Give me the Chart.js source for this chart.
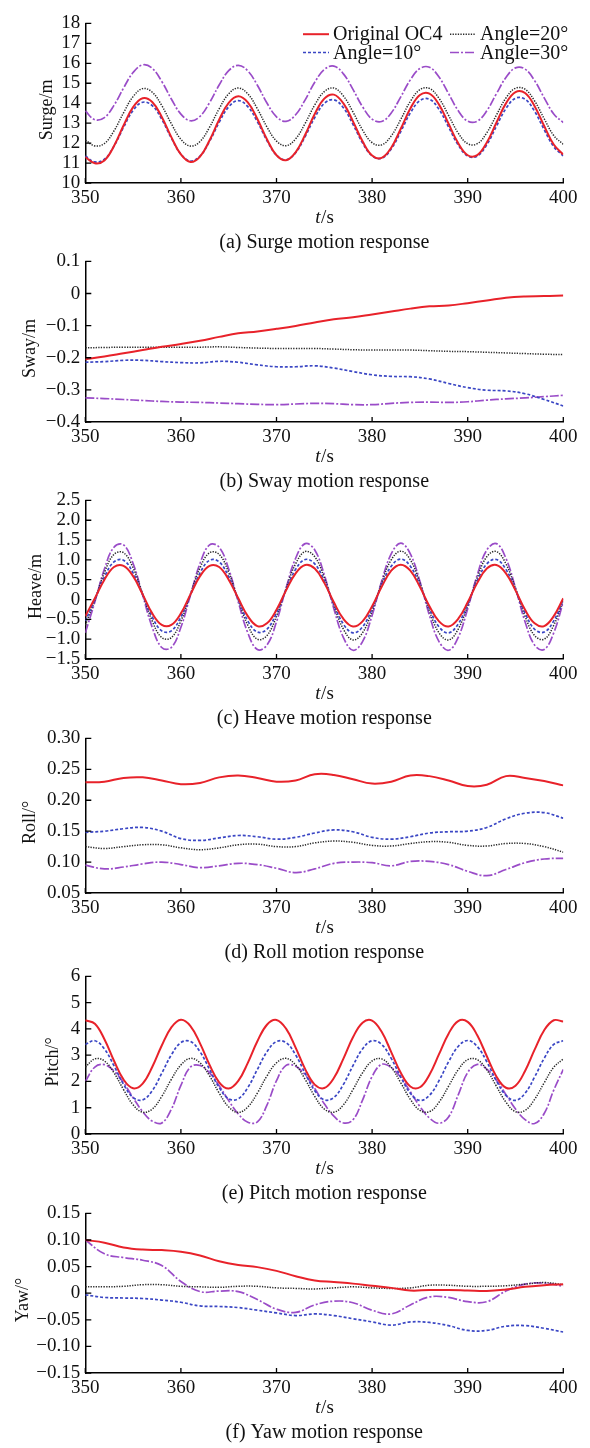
<!DOCTYPE html>
<html>
<head>
<meta charset="utf-8">
<script src="https://cdn.jsdelivr.net/npm/chart.js@4.4.0/dist/chart.umd.min.js"></script>
<style>
  html, body { margin: 0; padding: 0; background: #fff; }
  #wrap { position: relative; width: 590px; height: 1448px; overflow: hidden; }
  #wrap canvas { position: absolute; left: 0; }
</style>
</head>
<body>
<div id="wrap"></div>
<script>
// time axes (s)
const tFine = [350, 351, 352, 353, 354, 355, 356, 357, 358, 359, 360, 361, 362, 363, 364, 365, 366,
  367, 368, 369, 370, 371, 372, 373, 374, 375, 376, 377, 378, 379, 380, 381, 382, 383, 384, 385,
  386, 387, 388, 389, 390, 391, 392, 393, 394, 395, 396, 397, 398, 399, 400];
const tCoarse = [350, 352, 354, 356, 358, 360, 362, 364, 366, 368, 370, 372, 374, 376, 378, 380,
  382, 384, 386, 388, 390, 392, 394, 396, 398, 400];
const xTicks = [350, 360, 370, 380, 390, 400];

const seriesNames = ['Original OC4', 'Angle=10°', 'Angle=20°', 'Angle=30°'];

// (a) surge, m
const surgeOC4 = [11.30, 10.99, 11.13, 11.85, 12.88, 13.80, 14.25, 14.06, 13.31, 12.30,
  11.43, 11.05, 11.32, 12.14, 13.17, 14.02, 14.35, 14.04, 13.21, 12.19,
  11.39, 11.14, 11.54, 12.42, 13.46, 14.23, 14.43, 13.99, 13.09, 12.09,
  11.38, 11.26, 11.77, 12.72, 13.73, 14.41, 14.48, 13.93, 12.97, 12.00,
  11.39, 11.40, 12.03, 13.02, 13.99, 14.56, 14.51, 13.85, 12.86, 11.93, 11.43];
const surge10 = [11.35, 11.06, 11.19, 11.85, 12.79, 13.64, 14.05, 13.88, 13.19, 12.25,
  11.45, 11.10, 11.35, 12.09, 13.04, 13.82, 14.13, 13.83, 13.07, 12.13,
  11.39, 11.16, 11.52, 12.33, 13.28, 13.99, 14.17, 13.77, 12.94, 12.01,
  11.36, 11.24, 11.71, 12.58, 13.51, 14.13, 14.20, 13.69, 12.81, 11.91,
  11.35, 11.35, 11.92, 12.84, 13.73, 14.25, 14.20, 13.59, 12.67, 11.82, 11.36];
const surge20 = [12.15, 11.86, 11.98, 12.61, 13.52, 14.33, 14.73, 14.55, 13.88, 12.97,
  12.19, 11.85, 12.08, 12.80, 13.72, 14.47, 14.76, 14.47, 13.72, 12.81,
  12.10, 11.87, 12.21, 12.99, 13.91, 14.58, 14.76, 14.36, 13.56, 12.66,
  12.02, 11.91, 12.36, 13.19, 14.09, 14.68, 14.74, 14.24, 13.39, 12.51,
  11.97, 11.97, 12.52, 13.40, 14.26, 14.75, 14.70, 14.11, 13.22, 12.38, 11.94];
const surge30 = [13.61, 13.17, 13.28, 13.89, 14.76, 15.54, 15.92, 15.75, 15.09, 14.21,
  13.45, 13.12, 13.34, 14.03, 14.91, 15.63, 15.90, 15.62, 14.90, 14.01,
  13.32, 13.09, 13.42, 14.17, 15.05, 15.69, 15.86, 15.47, 14.69, 13.82,
  13.20, 13.08, 13.51, 14.32, 15.17, 15.74, 15.80, 15.31, 14.48, 13.63,
  13.10, 13.10, 13.62, 14.47, 15.29, 15.77, 15.71, 15.13, 14.27, 13.46, 13.03];

// (b) sway, m
const swayOC4 = [-0.205, -0.196, -0.186, -0.176, -0.166, -0.157, -0.147, -0.135, -0.124, -0.118,
  -0.110, -0.101, -0.090, -0.080, -0.074, -0.065, -0.056, -0.047, -0.040, -0.037,
  -0.030, -0.022, -0.013, -0.009, -0.008, -0.006];
const sway10 = [-0.214, -0.212, -0.208, -0.208, -0.212, -0.215, -0.216, -0.211, -0.214, -0.222,
  -0.228, -0.228, -0.225, -0.232, -0.243, -0.253, -0.258, -0.259, -0.266, -0.280,
  -0.293, -0.301, -0.303, -0.312, -0.330, -0.350];
const sway20 = [-0.169, -0.168, -0.167, -0.167, -0.167, -0.167, -0.167, -0.166, -0.168, -0.170,
  -0.171, -0.171, -0.171, -0.173, -0.175, -0.176, -0.176, -0.176, -0.178, -0.180,
  -0.181, -0.183, -0.185, -0.187, -0.189, -0.190];
const sway30 = [-0.325, -0.327, -0.330, -0.333, -0.336, -0.338, -0.339, -0.341, -0.343, -0.345,
  -0.346, -0.344, -0.342, -0.343, -0.346, -0.346, -0.342, -0.339, -0.338, -0.339,
  -0.337, -0.332, -0.328, -0.325, -0.321, -0.317];

// (c) heave, m
const heaveOC4 = [-0.42, 0.03, 0.50, 0.82, 0.85, 0.59, 0.13, -0.35, -0.64, -0.64,
  -0.35, 0.13, 0.59, 0.85, 0.82, 0.50, 0.03, -0.42, -0.67, -0.60,
  -0.26, 0.23, 0.66, 0.87, 0.78, 0.42, -0.07, -0.49, -0.68, -0.55,
  -0.17, 0.32, 0.73, 0.88, 0.73, 0.32, -0.17, -0.55, -0.68, -0.49,
  -0.07, 0.42, 0.78, 0.87, 0.66, 0.23, -0.26, -0.60, -0.67, -0.42, 0.03];
const heave10 = [-0.54, 0.00, 0.57, 0.95, 0.99, 0.67, 0.12, -0.44, -0.79, -0.79,
  -0.44, 0.12, 0.67, 0.99, 0.95, 0.57, 0.00, -0.54, -0.82, -0.75,
  -0.34, 0.24, 0.76, 1.01, 0.90, 0.47, -0.12, -0.62, -0.84, -0.69,
  -0.23, 0.36, 0.84, 1.02, 0.84, 0.36, -0.23, -0.69, -0.84, -0.62,
  -0.12, 0.47, 0.90, 1.01, 0.76, 0.24, -0.34, -0.75, -0.82, -0.54, 0.00];
const heave20 = [-0.65, -0.01, 0.68, 1.14, 1.18, 0.80, 0.14, -0.54, -0.96, -0.96,
  -0.54, 0.14, 0.80, 1.18, 1.14, 0.68, -0.01, -0.65, -1.00, -0.91,
  -0.42, 0.28, 0.90, 1.21, 1.08, 0.55, -0.15, -0.75, -1.02, -0.84,
  -0.29, 0.42, 1.00, 1.22, 1.00, 0.42, -0.29, -0.84, -1.02, -0.75,
  -0.15, 0.55, 1.08, 1.21, 0.90, 0.28, -0.42, -0.91, -1.00, -0.65, -0.01];
const heave30 = [-0.84, -0.06, 0.77, 1.32, 1.38, 0.91, 0.11, -0.70, -1.21, -1.21,
  -0.70, 0.11, 0.91, 1.38, 1.32, 0.77, -0.06, -0.84, -1.26, -1.15,
  -0.56, 0.29, 1.04, 1.41, 1.25, 0.62, -0.23, -0.96, -1.28, -1.06,
  -0.40, 0.46, 1.15, 1.42, 1.15, 0.46, -0.40, -1.06, -1.28, -0.96,
  -0.23, 0.62, 1.25, 1.41, 1.04, 0.29, -0.56, -1.15, -1.26, -0.84, -0.06];

// (d) roll, deg
const rollOC4 = [0.229, 0.230, 0.236, 0.237, 0.232, 0.226, 0.228, 0.237, 0.240, 0.236,
  0.230, 0.232, 0.242, 0.241, 0.234, 0.227, 0.230, 0.240, 0.239, 0.232,
  0.223, 0.225, 0.239, 0.236, 0.231, 0.224];
const roll10 = [0.148, 0.150, 0.154, 0.156, 0.150, 0.138, 0.135, 0.139, 0.143, 0.141,
  0.137, 0.140, 0.147, 0.152, 0.149, 0.140, 0.137, 0.141, 0.147, 0.149,
  0.150, 0.156, 0.170, 0.179, 0.180, 0.171];
const roll20 = [0.125, 0.122, 0.125, 0.128, 0.128, 0.123, 0.120, 0.123, 0.128, 0.129,
  0.125, 0.125, 0.131, 0.134, 0.132, 0.127, 0.126, 0.130, 0.133, 0.132,
  0.127, 0.126, 0.130, 0.130, 0.125, 0.116];
const roll30 = [0.095, 0.089, 0.092, 0.097, 0.100, 0.096, 0.091, 0.094, 0.098, 0.096,
  0.090, 0.083, 0.089, 0.098, 0.100, 0.099, 0.094, 0.101, 0.101, 0.096,
  0.085, 0.078, 0.088, 0.099, 0.105, 0.106];

// (e) pitch, deg
const pitchOC4 = [4.33, 4.20, 3.61, 2.79, 2.07, 1.74, 1.92, 2.55, 3.37, 4.06,
  4.35, 4.11, 3.45, 2.63, 1.97, 1.73, 2.02, 2.71, 3.53, 4.16,
  4.34, 4.01, 3.29, 2.47, 1.88, 1.75, 2.13, 2.87, 3.68, 4.24,
  4.32, 3.89, 3.12, 2.33, 1.81, 1.78, 2.26, 3.04, 3.82, 4.30,
  4.27, 3.76, 2.96, 2.19, 1.76, 1.84, 2.40, 3.21, 3.95, 4.33, 4.28];
const pitch10 = [3.41, 3.55, 3.24, 2.60, 1.89, 1.39, 1.30, 1.65, 2.31, 3.01,
  3.48, 3.52, 3.13, 2.46, 1.77, 1.34, 1.34, 1.77, 2.46, 3.13,
  3.52, 3.48, 3.01, 2.31, 1.65, 1.30, 1.39, 1.89, 2.60, 3.24,
  3.55, 3.41, 2.88, 2.17, 1.55, 1.28, 1.47, 2.03, 2.75, 3.33,
  3.56, 3.33, 2.75, 2.03, 1.47, 1.28, 1.55, 2.17, 2.88, 3.41, 3.55];
const pitch20 = [2.54, 2.86, 2.78, 2.33, 1.69, 1.11, 0.83, 0.95, 1.43, 2.08,
  2.63, 2.88, 2.71, 2.21, 1.56, 1.03, 0.82, 1.03, 1.56, 2.21,
  2.71, 2.88, 2.63, 2.08, 1.43, 0.95, 0.83, 1.11, 1.69, 2.33,
  2.78, 2.86, 2.54, 1.95, 1.32, 0.90, 0.85, 1.21, 1.82, 2.44,
  2.83, 2.83, 2.44, 1.82, 1.21, 0.85, 0.90, 1.32, 1.95, 2.54, 2.86];
const pitch30 = [2.00, 2.55, 2.64, 2.40, 1.95, 1.38, 0.85, 0.49, 0.42, 0.94,
  1.85, 2.55, 2.61, 2.33, 1.84, 1.27, 0.76, 0.45, 0.46, 1.10,
  2.03, 2.61, 2.58, 2.25, 1.73, 1.15, 0.68, 0.42, 0.54, 1.29,
  2.19, 2.65, 2.53, 2.15, 1.61, 1.05, 0.61, 0.41, 0.65, 1.48,
  2.34, 2.65, 2.47, 2.05, 1.50, 0.95, 0.55, 0.40, 0.78, 1.67, 2.46];

// (f) yaw, deg
const yawOC4 = [0.100, 0.095, 0.086, 0.082, 0.081, 0.078, 0.071, 0.060, 0.053, 0.049,
  0.042, 0.032, 0.024, 0.021, 0.018, 0.014, 0.010, 0.005, 0.006, 0.006,
  0.005, 0.004, 0.007, 0.012, 0.015, 0.017];
const yaw10 = [-0.003, -0.008, -0.009, -0.010, -0.013, -0.017, -0.024, -0.025, -0.027, -0.032,
  -0.037, -0.042, -0.039, -0.042, -0.048, -0.054, -0.060, -0.054, -0.055, -0.061,
  -0.070, -0.070, -0.062, -0.061, -0.066, -0.073];
const yaw20 = [0.012, 0.012, 0.013, 0.016, 0.016, 0.013, 0.012, 0.011, 0.013, 0.013,
  0.010, 0.009, 0.008, 0.010, 0.012, 0.010, 0.009, 0.010, 0.015, 0.015,
  0.013, 0.013, 0.014, 0.017, 0.020, 0.016];
const yaw30 = [0.100, 0.074, 0.067, 0.062, 0.052, 0.022, 0.003, 0.004, 0.003, -0.012,
  -0.030, -0.036, -0.022, -0.015, -0.018, -0.032, -0.039, -0.022, -0.007, -0.008,
  -0.016, -0.016, 0.004, 0.017, 0.019, 0.013];

const SERIF = '"Liberation Serif", "Times New Roman", serif';
const PLOT_LEFT = 85.3, PLOT_RIGHT = 563.3;
const NB = '\u00a0\u00a0\u00a0'; // nudges the rotated y titles a little lower, as in the source

const styles = [
  { color: '#e8222a', width: 2, dash: [] },
  { color: '#3a46c4', width: 1.7, dash: [3, 2] },
  { color: '#2a2a2a', width: 1.5, dash: [1.3, 1.3] },
  { color: '#9a4cc8', width: 1.7, dash: [9, 2, 2, 2] }
];

// plot box of each panel on the page, and left padding that puts the y title in place
const boxes = [
  { top: 19, bottom: 183, padLeft: 36 },
  { top: 257, bottom: 422, padLeft: 19 },
  { top: 496, bottom: 659, padLeft: 25 },
  { top: 734, bottom: 893, padLeft: 19 },
  { top: 972, bottom: 1134, padLeft: 42 },
  { top: 1209, bottom: 1373, padLeft: 12 }
];

const panels = [
  { t: tFine, ys: [surgeOC4, surge10, surge20, surge30], yTitle: 'Surge/m', min: 10, max: 18, step: 1, dec: 0, caption: '(a) Surge motion response' },
  { t: tCoarse, ys: [swayOC4, sway10, sway20, sway30], yTitle: 'Sway/m', min: -0.4, max: 0.1, step: 0.1, dec: 1, caption: '(b) Sway motion response' },
  { t: tFine, ys: [heaveOC4, heave10, heave20, heave30], yTitle: 'Heave/m', min: -1.5, max: 2.5, step: 0.5, dec: 1, caption: '(c) Heave motion response' },
  { t: tCoarse, ys: [rollOC4, roll10, roll20, roll30], yTitle: 'Roll/°', min: 0.05, max: 0.30, step: 0.05, dec: 2, caption: '(d) Roll motion response' },
  { t: tFine, ys: [pitchOC4, pitch10, pitch20, pitch30], yTitle: 'Pitch/°', min: 0, max: 6, step: 1, dec: 0, caption: '(e) Pitch motion response' },
  { t: tCoarse, ys: [yawOC4, yaw10, yaw20, yaw30], yTitle: 'Yaw/°', min: -0.15, max: 0.15, step: 0.05, dec: 2, caption: '(f) Yaw motion response' }
];

function fmt(v, dec) {
  if (Math.abs(v) < 1e-9) return '0';
  return v.toFixed(dec).replace('-', '\u2212');
}

// inward tick marks + "t/s" label with italic t
const axisExtras = {
  id: 'axisExtras',
  afterDraw(chart) {
    const { ctx, chartArea: a, scales: { x, y } } = chart;
    ctx.save();
    ctx.strokeStyle = '#000';
    ctx.lineWidth = 1.3;
    ctx.beginPath();
    xTicks.forEach(v => {
      const px = x.getPixelForValue(v);
      ctx.moveTo(px, a.bottom);
      ctx.lineTo(px, a.bottom - 5);
    });
    y.ticks.forEach(tk => {
      const py = y.getPixelForValue(tk.value);
      ctx.moveTo(a.left, py);
      ctx.lineTo(a.left + 6, py);
    });
    ctx.stroke();

    ctx.fillStyle = '#111';
    ctx.textBaseline = 'middle';
    ctx.textAlign = 'left';
    ctx.font = 'italic 19px ' + SERIF;
    const w1 = ctx.measureText('t').width;
    ctx.font = '19px ' + SERIF;
    const w2 = ctx.measureText('/s').width;
    const sx = (a.left + a.right) / 2 - (w1 + w2) / 2;
    const sy = a.bottom + 35;
    ctx.font = 'italic 19px ' + SERIF;
    ctx.fillText('t', sx, sy);
    ctx.font = '19px ' + SERIF;
    ctx.fillText('/s', sx + w1 + 0.5, sy);
    ctx.restore();
  }
};

// two-column legend in the first panel
const cornerLegend = {
  id: 'cornerLegend',
  afterDraw(chart, args, opts) {
    if (!opts.show) return;
    const ctx = chart.ctx;
    ctx.save();
    ctx.font = '20px ' + SERIF;
    ctx.textBaseline = 'middle';
    ctx.textAlign = 'left';
    chart.data.datasets.forEach((ds, i) => {
      const x0 = opts.cols[Math.floor(i / 2)];
      const y0 = opts.rows[i % 2];
      ctx.strokeStyle = ds.borderColor;
      ctx.lineWidth = ds.borderWidth;
      ctx.setLineDash(ds.borderDash || []);
      ctx.beginPath();
      ctx.moveTo(x0, y0);
      ctx.lineTo(x0 + opts.line, y0);
      ctx.stroke();
      ctx.setLineDash([]);
      ctx.fillStyle = '#111';
      ctx.fillText(ds.label, x0 + opts.line + 4, y0 + 1);
    });
    ctx.restore();
  }
};

const wrap = document.getElementById('wrap');

panels.forEach((p, i) => {
  const box = boxes[i];
  const cv = document.createElement('canvas');
  cv.width = 590;
  cv.height = box.bottom - box.top + 92;
  cv.style.top = (box.top - 12) + 'px';
  wrap.appendChild(cv);

  const datasets = p.ys.map((vals, k) => ({
    label: seriesNames[k],
    data: p.t.map((t, j) => ({ x: t, y: vals[j] })),
    borderColor: styles[k].color,
    borderWidth: styles[k].width,
    borderDash: styles[k].dash,
    pointRadius: 0,
    tension: 0.4,
    fill: false
  }));

  new Chart(cv, {
    type: 'line',
    data: { datasets },
    plugins: [axisExtras, cornerLegend],
    options: {
      responsive: false,
      animation: false,
      events: [],
      layout: { padding: { top: 12, left: box.padLeft, right: 590 - PLOT_RIGHT, bottom: 8 } },
      plugins: {
        legend: { display: false },
        tooltip: { enabled: false },
        title: {
          display: true,
          text: p.caption,
          position: 'bottom',
          fullSize: false,
          color: '#111',
          font: { family: SERIF, size: 20, weight: 'normal' },
          padding: { top: 2, bottom: 0 }
        },
        cornerLegend: { show: i === 0, cols: [303, 450], rows: [27.2, 45.5], line: 26 }
      },
      scales: {
        x: {
          type: 'linear',
          min: 350,
          max: 400,
          afterFit: s => { s.height = 46; },
          ticks: {
            stepSize: 10,
            padding: 4,
            maxRotation: 0,
            autoSkip: false,
            color: '#111',
            font: { family: SERIF, size: 19 },
            callback: v => String(v)
          },
          grid: { display: false, drawTicks: false },
          border: { display: true, color: '#000', width: 1.5 }
        },
        y: {
          min: p.min,
          max: p.max,
          afterFit: s => { s.width = PLOT_LEFT - box.padLeft; },
          ticks: {
            stepSize: p.step,
            padding: 5,
            autoSkip: false,
            color: '#111',
            font: { family: SERIF, size: 19 },
            callback: v => fmt(v, p.dec)
          },
          grid: { display: false, drawTicks: false },
          border: { display: true, color: '#000', width: 1.5 },
          title: {
            display: true,
            text: p.yTitle + NB,
            color: '#111',
            font: { family: SERIF, size: 18 },
            padding: { top: 0, bottom: 0 }
          }
        }
      }
    }
  });
});
</script>
</body>
</html>
